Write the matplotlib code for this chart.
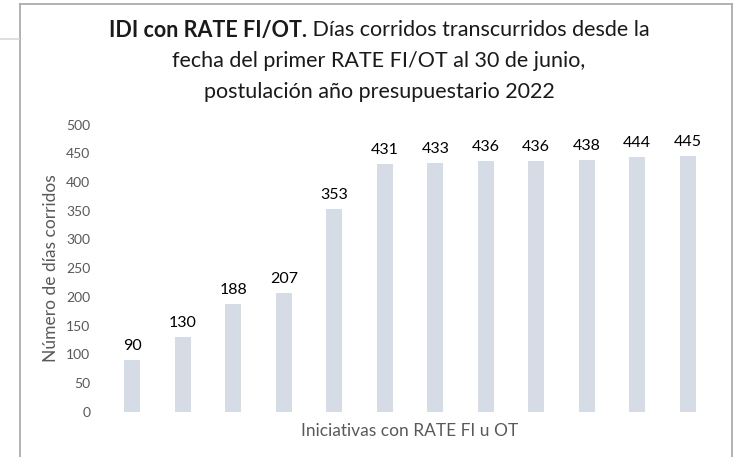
import matplotlib
matplotlib.use("Agg")
import matplotlib.pyplot as plt
from matplotlib.lines import Line2D

dias = [90, 130, 188, 207, 353, 431, 433, 436, 436, 438, 444, 445]
posiciones = list(range(len(dias)))
yticks = [0, 50, 100, 150, 200, 250, 300, 350, 400, 450, 500]

W, H = 736, 457
plt.rcParams['font.family'] = ['Lato', 'DejaVu Sans']

fig = plt.figure(figsize=(W / 100, H / 100), dpi=100)

# frame like the excel chart box
gris = '#a6a6a6'
fig.add_artist(Line2D([20 / W, 20 / W], [0, 1 - 4 / H], color=gris, lw=1.2))
fig.add_artist(Line2D([20 / W, 732 / W], [1 - 4 / H, 1 - 4 / H], color=gris, lw=1.2))
fig.add_artist(Line2D([732 / W, 732 / W], [0, 1 - 4 / H], color=gris, lw=1.2))
fig.add_artist(Line2D([0, 19 / W], [1 - 39 / H, 1 - 39 / H], color='#d9d9d9', lw=1.2))

ax = fig.add_axes([107 / W, (H - 411.7) / H, 606 / W, 287.2 / H])
ax.bar(posiciones, dias, width=0.32, color='#D6DCE5')
for x, v in zip(posiciones, dias):
    ax.text(x, v + 12, str(v), ha='center', va='bottom', fontsize=11.5, color='black')

ax.set_xlim(-0.5, len(dias) - 0.5)
ax.set_ylim(0, 500)
ax.set_yticks(yticks)
ax.set_xticks([])
ax.tick_params(axis='y', length=0, labelsize=10, colors='#595959', pad=12)
for s in ax.spines.values():
    s.set_visible(False)
ax.set_ylabel('Número de días corridos', fontsize=12.5, color='#595959', labelpad=5)
ax.set_xlabel('Iniciativas con RATE FI u OT', fontsize=12.5, color='#595959', labelpad=8)

# title, first line has a bold part
cx = 379 / W
t_bold = fig.text(0, 1 - 30 / H, 'IDI con RATE FI/OT.', fontsize=15.5, fontweight='bold',
                  ha='left', va='center', color='#1a1a1a')
t_reg = fig.text(0, 1 - 30 / H, ' Días corridos transcurridos desde la', fontsize=15.5,
                 ha='left', va='center', color='#1a1a1a')
fig.canvas.draw()
r = fig.canvas.get_renderer()
wb = t_bold.get_window_extent(r).width / W
wr = t_reg.get_window_extent(r).width / W
x0 = cx - (wb + wr) / 2
t_bold.set_x(x0)
t_reg.set_x(x0 + wb)
fig.text(cx, 1 - 61 / H, 'fecha del primer RATE FI/OT al 30 de junio,', fontsize=15.5,
         ha='center', va='center', color='#1a1a1a')
fig.text(cx, 1 - 92 / H, 'postulación año presupuestario 2022', fontsize=15.5,
         ha='center', va='center', color='#1a1a1a')

fig.savefig('out.png', dpi=100)
